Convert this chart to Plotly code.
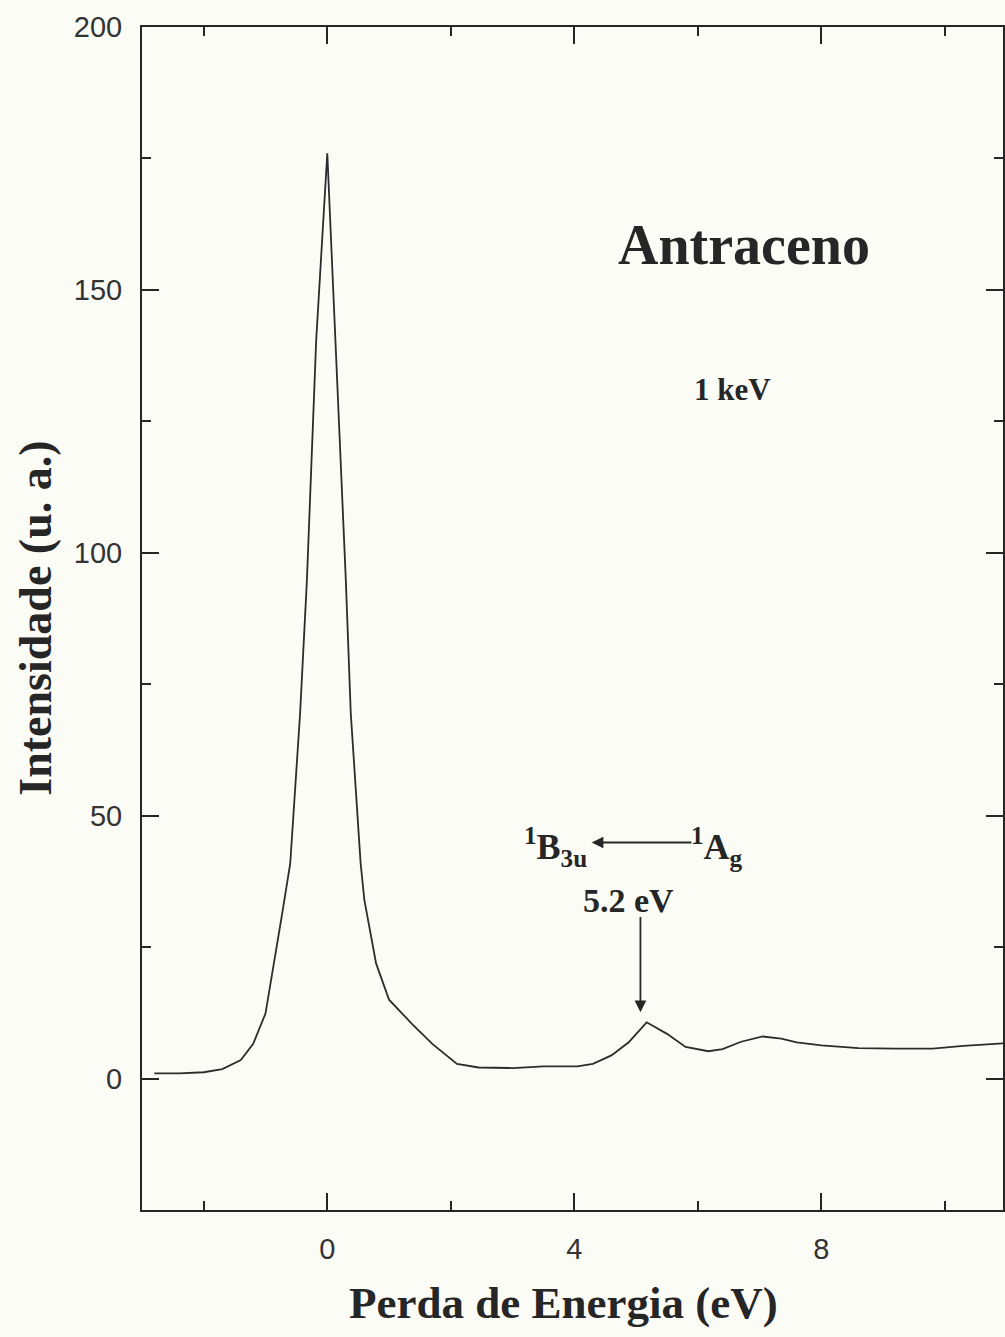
import plotly.graph_objects as go

# Energy-loss spectrum of anthracene at 1 keV
energy_loss = [-2.8, -2.4, -2.0, -1.7, -1.4, -1.2, -1.0, -0.86, -0.73, -0.6,
               -0.44, -0.33, -0.18, 0.0, 0.13, 0.3, 0.38, 0.54, 0.6, 0.79,
               1.0, 1.37, 1.7, 2.1, 2.45, 3.0, 3.5, 4.05, 4.3, 4.6,
               4.88, 5.17, 5.5, 5.8, 6.17, 6.4, 6.7, 7.05, 7.35, 7.6,
               8.0, 8.6, 9.2, 9.8, 10.3, 10.95]
intensity = [1.0, 1.0, 1.2, 1.8, 3.5, 6.6, 12.4, 21.9, 31.4, 40.9,
             69.5, 94.8, 140.4, 176.0, 140.4, 94.8, 69.5, 40.9, 34.0, 21.9,
             15.0, 10.4, 6.6, 2.8, 2.1, 2.0, 2.3, 2.3, 2.8, 4.4,
             6.9, 10.7, 8.5, 6.0, 5.2, 5.6, 7.0, 8.0, 7.6, 6.9,
             6.3, 5.8, 5.7, 5.7, 6.2, 6.7]

x_tick_vals = [0, 4, 8]
x_tick_text = ["0", "4", "8"]
y_tick_vals = [0, 50, 100, 150, 200]
y_tick_text = ["0", "50", "100", "150", "200"]

ink = "#262626"
paper = "#fcfcf7"
serif = "Liberation Serif"
sans = "Liberation Sans"

fig = go.Figure()
fig.add_trace(go.Scatter(
    x=energy_loss, y=intensity, mode="lines",
    line=dict(color="#2c2c2c", width=1.8),
    showlegend=False, hoverinfo="skip",
))

axis_common = dict(
    showline=True, linecolor=ink, linewidth=2, mirror="allticks",
    ticks="inside", tickcolor=ink, tickwidth=2, ticklen=17,
    showgrid=False, zeroline=False,
    tickfont=dict(family=sans, size=29, color="#333333"),
)

fig.update_xaxes(
    range=[-3, 10.94], tickmode="array",
    tickvals=x_tick_vals, ticktext=x_tick_text,
    ticklabelstandoff=12,
    minor=dict(tickmode="array", tickvals=[-2, 2, 6, 10],
               ticks="inside", ticklen=9, tickwidth=2, tickcolor=ink),
    **axis_common,
)
fig.update_yaxes(
    range=[-25, 200], tickmode="array",
    tickvals=y_tick_vals, ticktext=y_tick_text,
    ticklabelstandoff=12,
    minor=dict(tickmode="array", tickvals=[25, 75, 125, 175],
               ticks="inside", ticklen=9, tickwidth=2, tickcolor=ink),
    **axis_common,
)

# Axis titles
fig.add_annotation(
    text="Perda de Energia (eV)", xref="paper", yref="paper",
    x=0.49, y=-0.079, xanchor="center", yanchor="middle", showarrow=False,
    font=dict(family=serif, size=45, color=ink, weight="bold"),
)
fig.add_annotation(
    text="Intensidade (u. a.)", xref="paper", yref="paper",
    x=-0.124, y=0.5, xanchor="center", yanchor="middle", showarrow=False,
    textangle=-90,
    font=dict(family=serif, size=46, color=ink, weight="bold"),
)

# Labels inside the plot
fig.add_annotation(
    text="Antraceno", x=6.74, y=158.5, showarrow=False,
    xanchor="center", yanchor="middle",
    font=dict(family=serif, size=56, color=ink, weight="bold"),
)
fig.add_annotation(
    text="1 keV", x=6.56, y=131, showarrow=False,
    xanchor="center", yanchor="middle",
    font=dict(family=serif, size=31, color=ink, weight="bold"),
)
fig.add_annotation(
    text="<sup>1</sup>B<sub>3u</sub>", x=4.24, y=44.0, showarrow=False,
    xanchor="right", yanchor="middle",
    font=dict(family=serif, size=36, color=ink, weight="bold"),
)
fig.add_annotation(
    text="<sup>1</sup>A<sub>g</sub>", x=5.85, y=44.0, showarrow=False,
    xanchor="left", yanchor="middle",
    font=dict(family=serif, size=36, color=ink, weight="bold"),
)
# Transition arrow 1Ag -> 1B3u
fig.add_annotation(
    x=4.28, y=44.9, ax=5.92, ay=44.9, axref="x", ayref="y",
    xref="x", yref="y", text="", showarrow=True,
    arrowhead=2, arrowsize=1.3, arrowwidth=1.8, arrowcolor=ink,
)
fig.add_annotation(
    text="5.2 eV", x=4.88, y=33.9, showarrow=False,
    xanchor="center", yanchor="middle",
    font=dict(family=serif, size=34, color=ink, weight="bold"),
)
# Arrow pointing at the 5.2 eV feature
fig.add_annotation(
    x=5.07, y=12.6, ax=5.07, ay=31.0, axref="x", ayref="y",
    xref="x", yref="y", text="", showarrow=True,
    arrowhead=2, arrowsize=1.3, arrowwidth=1.8, arrowcolor=ink,
)

fig.update_layout(
    width=1005, height=1337,
    margin=dict(l=142, r=0, t=27, b=127),
    paper_bgcolor=paper, plot_bgcolor=paper,
    showlegend=False,
)

fig.write_html("out.html")
